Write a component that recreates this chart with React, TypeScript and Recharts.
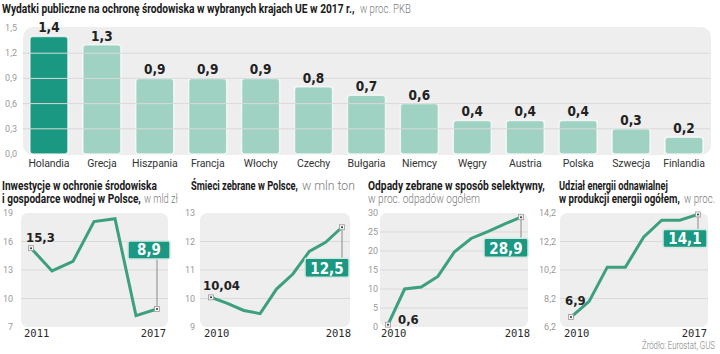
import React from 'react';
import { BarChart, Bar, XAxis, YAxis, Cell, LabelList, LineChart, Line, ReferenceLine } from 'recharts';

const countries = ['Holandia', 'Grecja', 'Hiszpania', 'Francja', 'Włochy', 'Czechy', 'Bułgaria', 'Niemcy', 'Węgry', 'Austria', 'Polska', 'Szwecja', 'Finlandia'];
const spendingShare = [1.4, 1.3, 0.9, 0.9, 0.9, 0.8, 0.7, 0.6, 0.4, 0.4, 0.4, 0.3, 0.2];
const spendingTicks = [0, 0.3, 0.6, 0.9, 1.2, 1.5];
const highlighted = 'Holandia';

const investYears = [2011, 2012, 2013, 2014, 2015, 2016, 2017];
const investValues = [15.3, 12.9, 13.9, 18.1, 18.4, 8.2, 8.9];
const investTicks = [7, 10, 13, 16, 19];

const wasteYears = [2010, 2011, 2012, 2013, 2014, 2015, 2016, 2017, 2018];
const wasteValues = [10.04, 9.83, 9.58, 9.47, 10.33, 10.86, 11.65, 11.97, 12.5];
const wasteTicks = [9, 10, 11, 12, 13];

const selectiveYears = [2010, 2011, 2012, 2013, 2014, 2015, 2016, 2017, 2018];
const selectiveValues = [0.6, 10.0, 10.5, 13.3, 19.8, 23.3, 25.1, 27.1, 28.9];
const selectiveTicks = [0, 5, 10, 15, 20, 25, 30];

const renewYears = [2010, 2011, 2012, 2013, 2014, 2015, 2016, 2017];
const renewValues = [6.9, 8.0, 10.4, 10.4, 12.5, 13.7, 13.7, 14.1];
const renewTicks = [6.2, 8.2, 10.2, 12.2, 14.2];

const TEAL_DARK = '#1a9882';
const TEAL_LIGHT = '#a0d2c4';
const LINE_COLOR = '#3c9f80';
const BG = '#eeeeee';
const GRID = '#d9d9d9';
const SANS = 'Roboto, "Noto Sans", sans-serif';
const COND = '"DejaVu Sans Condensed", "DejaVu Sans", sans-serif';
const MONO = '"DejaVu Sans Mono", monospace';

const fmt = (v: number) => String(v).replace('.', ',');
const fmt1 = (v: number) => v.toFixed(1).replace('.', ',');
const fmt0 = (v: number) => String(v);

const barData = countries.map((c, i) => ({ country: c, value: spendingShare[i] }));

let measureCtx: CanvasRenderingContext2D | null = null;
function measure(text: string, weight: string | number, size: number): number {
  if (!measureCtx && typeof document !== 'undefined') {
    measureCtx = document.createElement('canvas').getContext('2d');
  }
  if (!measureCtx) return text.length * size * 0.55;
  measureCtx.font = `${weight} ${size}px Roboto, "Noto Sans", sans-serif`;
  return measureCtx.measureText(text).width || text.length * size * 0.55;
}

const CountryTick = (props: any) => (
  <text x={props.x} y={props.y + 13} textAnchor="middle" fontFamily={SANS} fontSize={10.5} fill="#333" letterSpacing={-0.1}>
    {props.payload.value}
  </text>
);

const makeYTick = (dx: number, format: (v: number) => string) => (props: any) => (
  <text x={props.x + dx} y={props.y + 3} textAnchor="end" fontFamily={SANS} fontSize={9} fill="#999">
    {format(props.payload.value)}
  </text>
);

const makeYearTick = (firstYear: number) => (props: any) => {
  const isFirst = props.payload.value === firstYear;
  return (
    <text x={isFirst ? props.x - 7 : props.x + 9} y={props.y + 10} textAnchor={isFirst ? 'start' : 'end'}
      fontFamily={MONO} fontSize={10.5} fill="#2a2a2a">
      {props.payload.value}
    </text>
  );
};

const BarLabel = (props: any) => {
  const { x, y, width, value } = props;
  return (
    <text x={x + width / 2} y={y - 4} textAnchor="middle" fontFamily={COND} fontWeight="bold" fontSize={13.5} fill="#222">
      {fmt(value)}
    </text>
  );
};

type SmallProps = {
  chartLeft: number; bgLeft: number; bgRight: number;
  years: number[]; values: number[]; ticks: number[];
  padL: number; padR: number; tickDx: number; tickFmt: (v: number) => string;
  startDx: number; startDy: number;
  boxRightDx: number; boxTopDy: number; boxW: number; boxH: number;
};

function SmallChart(p: SmallProps) {
  const data = p.years.map((y, i) => ({ year: y, value: p.values[i] }));
  const yW = p.bgLeft - p.chartLeft;
  const plotW = p.bgRight - p.bgLeft;
  const width = Math.min(yW + plotW + 16, 720 - p.chartLeft);
  const last = data.length - 1;
  const renderDot = (d: any) => {
    const { cx, cy, index } = d;
    if (index !== 0 && index !== last) return <g key={`d${index}`} />;
    const marker = (
      <g>
        <rect x={cx - 2.5} y={cy - 2.5} width={5} height={5} fill="#f4f4f4" stroke="#9a9a9a" strokeWidth={0.8} />
        <circle cx={cx} cy={cy} r={1} fill="#333" />
      </g>
    );
    if (index === 0) {
      return (
        <g key="first">
          {marker}
          <text x={cx + p.startDx} y={cy + p.startDy} fontFamily={COND} fontWeight="bold" fontSize={13} fill="#222">
            {fmt(p.values[0])}
          </text>
        </g>
      );
    }
    const bx = cx + p.boxRightDx - p.boxW;
    const by = cy + p.boxTopDy;
    const connY = p.boxTopDy < 0 ? by + p.boxH : by;
    return (
      <g key="last">
        <line x1={cx} y1={cy} x2={cx} y2={connY} stroke="#8a8a8a" strokeWidth={1} />
        <rect x={bx} y={by} width={p.boxW} height={p.boxH} rx={2} fill={TEAL_DARK} stroke="#d2e8e1" strokeWidth={1.5} />
        <text x={bx + p.boxW / 2} y={by + p.boxH - 3.5} textAnchor="middle" fontFamily={COND} fontWeight="bold" fontSize={15} fill="#fff">
          {fmt(p.values[last])}
        </text>
        {marker}
      </g>
    );
  };
  const first = p.years[0];
  const lastYear = p.years[last];
  return (
    <div style={{ position: 'absolute', left: p.chartLeft, top: 200, width, height: 145 }}>
      <div style={{ position: 'absolute', left: yW, top: 13, width: plotW, height: 114, background: BG, borderRadius: 7 }} />
      <LineChart width={width} height={145} data={data} margin={{ top: 13, right: width - yW - plotW, bottom: 0, left: 0 }}>
        <XAxis type="number" dataKey="year" domain={[first, lastYear]} ticks={[first, lastYear]} padding={{ left: p.padL, right: p.padR }}
          axisLine={false} tickLine={false} tickSize={0} tickMargin={0} height={18} interval={0} tick={makeYearTick(first)} />
        <YAxis type="number" domain={[p.ticks[0], p.ticks[p.ticks.length - 1]]} ticks={p.ticks} width={yW}
          axisLine={false} tickLine={false} tickSize={0} tickMargin={0} interval={0} tick={makeYTick(p.tickDx, p.tickFmt)} />
        {p.ticks.slice(1, -1).map((t) => (
          <ReferenceLine key={t} y={t} stroke={GRID} strokeWidth={1} />
        ))}
        <Line type="linear" dataKey="value" stroke={LINE_COLOR} strokeWidth={3} dot={renderDot} activeDot={false} isAnimationActive={false} />
      </LineChart>
    </div>
  );
}

const T = (props: { x: number; y: number; w: number; bold?: boolean; size?: number; children: string }) => {
  const size = props.size ?? 12;
  const weight = props.bold ? 'bold' : '300';
  const natural = measure(props.children, weight, size);
  const s = props.w / natural;
  return (
    <text transform={`translate(${props.x},${props.y}) scale(${s.toFixed(4)},1)`} x={0} y={0}
      fontFamily={SANS} fontSize={size} fontWeight={weight} fill={props.bold ? '#1a1a1a' : '#7a7a7a'}>
      {props.children}
    </text>
  );
};

export default function App() {
  return (
    <div style={{ position: 'absolute', left: 0, top: 0, width: 720, height: 354, background: '#fff', overflow: 'hidden' }}>
      <div style={{ position: 'absolute', left: 0, top: 0, width: 720, height: 172 }}>
        <div style={{ position: 'absolute', left: 23, top: 27, width: 688, height: 128, background: BG, borderRadius: 10 }} />
        <BarChart width={720} height={172} data={barData} margin={{ top: 28, right: 9.5, bottom: 0, left: 0 }} barCategoryGap="14%">
          <XAxis dataKey="country" axisLine={false} tickLine={false} tickSize={0} tickMargin={0} height={18} interval={0} tick={<CountryTick />} />
          <YAxis type="number" domain={[0, 1.5]} ticks={spendingTicks} width={22.5} axisLine={false} tickLine={false} tickSize={0} tickMargin={0}
            interval={0} tick={makeYTick(-5.5, fmt1)} />
          {spendingTicks.slice(1, -1).map((t) => (
            <ReferenceLine key={t} y={t} stroke={GRID} strokeWidth={1} />
          ))}
          <Bar dataKey="value" isAnimationActive={false} radius={3} stroke="rgba(255,255,255,0.7)" strokeWidth={1.5}>
            {barData.map((d) => (
              <Cell key={d.country} fill={d.country === highlighted ? TEAL_DARK : TEAL_LIGHT} />
            ))}
            <LabelList dataKey="value" content={BarLabel} />
          </Bar>
        </BarChart>
      </div>

      <SmallChart chartLeft={0} bgLeft={21} bgRight={168} years={investYears} values={investValues} ticks={investTicks}
        padL={10} padR={11} tickDx={-8} tickFmt={fmt0} startDx={-5} startDy={-6} boxRightDx={13} boxTopDy={-68} boxW={42} boxH={18} />
      <SmallChart chartLeft={180} bgLeft={200} bgRight={350} years={wasteYears} values={wasteValues} ticks={wasteTicks}
        padL={11} padR={8} tickDx={-5} tickFmt={fmt0} startDx={-8} startDy={-7} boxRightDx={7} boxTopDy={31} boxW={44} boxH={19} />
      <SmallChart chartLeft={360} bgLeft={380} bgRight={528} years={selectiveYears} values={selectiveValues} ticks={selectiveTicks}
        padL={8} padR={7} tickDx={-2} tickFmt={fmt0} startDx={10} startDy={-1} boxRightDx={7} boxTopDy={21} boxW={44} boxH={19} />
      <SmallChart chartLeft={540} bgLeft={560} bgRight={708} years={renewYears} values={renewValues} ticks={renewTicks}
        padL={11} padR={10} tickDx={-4} tickFmt={fmt1} startDx={-6} startDy={-12} boxRightDx={9} boxTopDy={15} boxW={44} boxH={18} />

      <svg width={720} height={354} style={{ position: 'absolute', left: 0, top: 0, pointerEvents: 'none' }}>
        <T x={2} y={13} w={353} bold size={12.5}>Wydatki publiczne na ochronę środowiska w wybranych krajach UE w 2017 r.,</T>
        <T x={360} y={13} w={51} size={12.5}>w proc. PKB</T>

        <T x={2} y={189.5} w={155} bold>Inwestycje w ochronie środowiska</T>
        <T x={2} y={202.5} w={139} bold>i gospodarce wodnej w Polsce,</T>
        <T x={144} y={202.5} w={34}>w mld zł</T>

        <T x={191} y={189.5} w={107} bold>Śmieci zebrane w Polsce,</T>
        <T x={302} y={189.5} w={53}>w mln ton</T>

        <T x={368} y={189.5} w={177} bold>Odpady zebrane w sposób selektywny,</T>
        <T x={368} y={202.5} w={112}>w proc. odpadów ogółem</T>

        <T x={559} y={189.5} w={109} bold>Udział energii odnawialnej</T>
        <T x={559} y={202.5} w={121} bold>w produkcji energii ogółem,</T>
        <T x={684} y={202.5} w={31}>w proc.</T>

        <T x={642} y={349} w={73} size={10}>Źródło: Eurostat, GUS</T>
      </svg>
    </div>
  );
}
